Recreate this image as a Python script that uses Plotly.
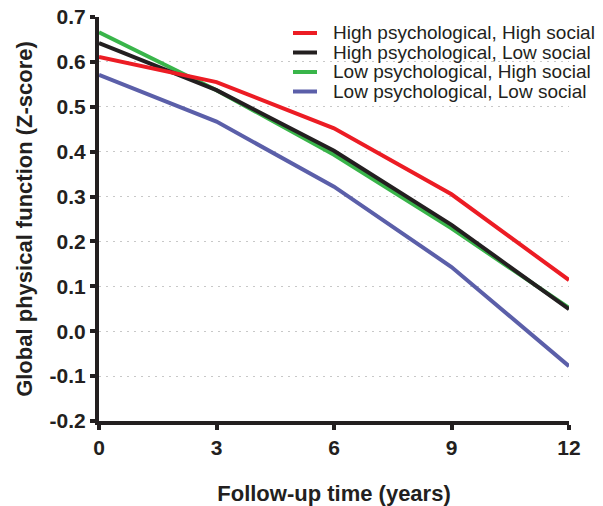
import plotly.graph_objects as go

years = [0, 3, 6, 9, 12]
series_names = [
    "High psychological, High social",
    "High psychological, Low social",
    "Low psychological, High social",
    "Low psychological, Low social",
]
hp_hs = [0.611, 0.555, 0.452, 0.305, 0.114]
hp_ls = [0.642, 0.537, 0.402, 0.237, 0.049]
lp_hs = [0.666, 0.537, 0.393, 0.229, 0.052]
lp_ls = [0.571, 0.467, 0.322, 0.143, -0.078]
series_values = [hp_hs, hp_ls, lp_hs, lp_ls]
colors = ["#EC1C24", "#231F20", "#39B54A", "#5B5FA9"]
y_ticks = [-0.2, -0.1, 0.0, 0.1, 0.2, 0.3, 0.4, 0.5, 0.6, 0.7]
y_tick_labels = ["-0.2", "-0.1", "0.0", "0.1", "0.2", "0.3", "0.4", "0.5", "0.6", "0.7"]
x_ticks = [0, 3, 6, 9, 12]

FONT = "Arial, Liberation Sans, Helvetica, sans-serif"
INK = "#231F20"

W, H = 603, 506
ML, MR, MT, MB = 99, 34, 17, 85

fig = go.Figure()
draw_order = [3, 2, 1, 0]
for i in draw_order:
    fig.add_trace(go.Scatter(
        x=years, y=series_values[i], mode="lines", name=series_names[i],
        line=dict(color=colors[i], width=4), showlegend=False,
    ))

# manual legend (paper coords)
pw = W - ML - MR
ph = H - MT - MB
def px_x(p):
    return (p - ML) / pw
def px_y(p):
    return (H - MB - p) / ph

row_y = [33, 52.5, 72, 91.5]
for i, name in enumerate(series_names):
    fig.add_shape(type="line", xref="paper", yref="paper",
                  x0=px_x(293), x1=px_x(317), y0=px_y(row_y[i]), y1=px_y(row_y[i]),
                  line=dict(color=colors[i], width=4))
legend_text = "<br>".join(
    '<span style="font-size:19px">%s</span>' % n for n in series_names
)
fig.add_annotation(text=legend_text, xref="paper", yref="paper", align="left",
                   x=px_x(331), y=px_y(sum(row_y) / len(row_y)),
                   xanchor="left", yanchor="middle", showarrow=False,
                   font=dict(family=FONT, size=15, color=INK))

axis_common = dict(
    showline=True, linecolor=INK, linewidth=4,
    ticks="outside", ticklen=5, tickwidth=4, tickcolor=INK,
    tickfont=dict(family=FONT, size=21, color=INK, weight="bold"),
    zeroline=False, automargin=False,
)

fig.update_xaxes(
    range=[0, 12], tickvals=x_ticks, showgrid=False,
    title=dict(text="Follow-up time (years)", standoff=33,
               font=dict(family=FONT, size=22, color=INK, weight="bold")),
    **axis_common,
)
fig.update_yaxes(
    range=[-0.2, 0.7], tickvals=y_ticks, ticktext=y_tick_labels,
    showgrid=True, gridcolor="#C8C8C8", gridwidth=1, griddash="2px,5px",
    title=dict(text="Global physical function (Z-score)", standoff=12,
               font=dict(family=FONT, size=22, color=INK, weight="bold")),
    **axis_common,
)

fig.update_layout(
    width=W, height=H,
    margin=dict(l=ML, r=MR, t=MT, b=MB),
    paper_bgcolor="white", plot_bgcolor="white",
    showlegend=False,
)

fig.write_html("out.html", config={"displayModeBar": False},
               post_script="document.body.style.margin='0';document.body.style.overflow='hidden';")
